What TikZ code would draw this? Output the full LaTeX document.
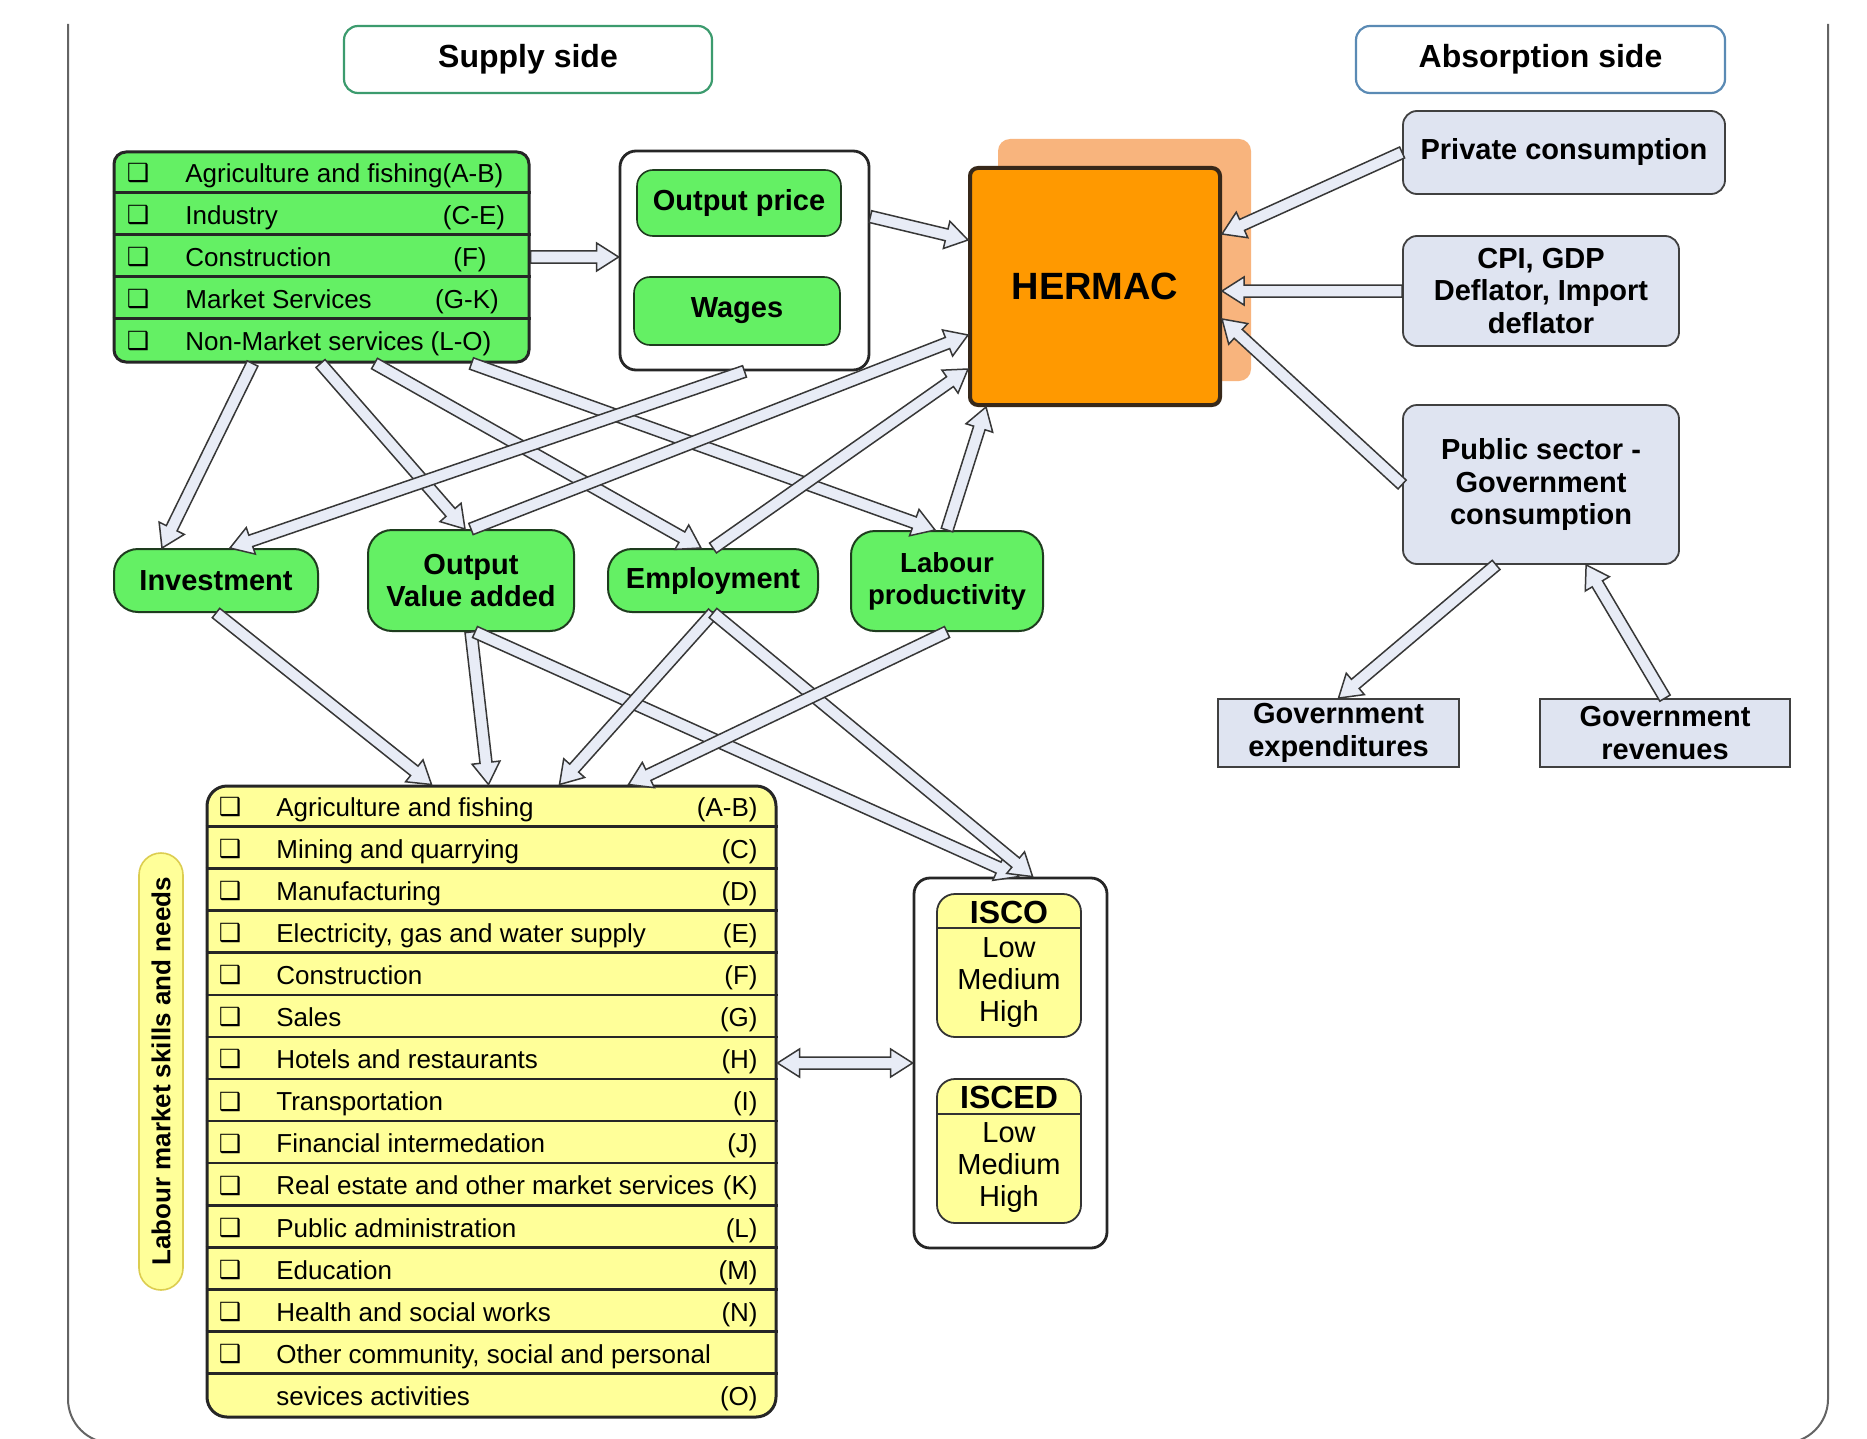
\documentclass[tikz,border=0pt]{standalone}
\usepackage{fontspec}
\setmainfont{Liberation Sans}
\newfontfamily\dejavu{DejaVu Sans}
\usetikzlibrary{calc}

\definecolor{gfill}{RGB}{100,240,100}
\definecolor{yfill}{RGB}{255,255,153}
\definecolor{bfill}{RGB}{223,228,241}
\definecolor{ofill}{RGB}{255,153,0}
\definecolor{oshadow}{RGB}{248,180,125}
\definecolor{afill}{RGB}{232,236,246}
\definecolor{aline}{RGB}{55,55,55}
\definecolor{framegray}{RGB}{100,100,100}
\definecolor{supplyline}{RGB}{60,155,110}
\definecolor{absline}{RGB}{90,138,180}
\definecolor{vlabline}{RGB}{220,205,80}
\definecolor{dkgreen}{RGB}{30,60,30}
\definecolor{hermline}{RGB}{55,40,25}

\newcommand\faw{3pt}
\newcommand\fah{7pt}
\newcommand\fal{11pt}
\newcommand\lblfont{\bfseries\fontsize{14.5}{16.3}\selectfont}
\newcommand\rowfont{\fontsize{13}{15}\selectfont}

\newcommand\fatarrow[2]{%
  \path #1 coordinate (faA) #2 coordinate (faB);
  \path ($(faB)!\fal!(faA)$) coordinate (faH);
  \draw[fatarrow] ($(faA)!\faw!90:(faB)$) -- ($(faH)!\faw!90:(faB)$) -- ($(faH)!\fah!90:(faB)$) -- (faB) -- ($(faH)!\fah!-90:(faB)$) -- ($(faH)!\faw!-90:(faB)$) -- ($(faA)!\faw!-90:(faB)$) -- cycle;
}
\newcommand\dblarrow[2]{%
  \path #1 coordinate (faA) #2 coordinate (faB);
  \path ($(faB)!\fal!(faA)$) coordinate (faH) ($(faA)!\fal!(faB)$) coordinate (faG);
  \draw[fatarrow] (faA) -- ($(faG)!\fah!90:(faB)$) -- ($(faG)!\faw!90:(faB)$) -- ($(faH)!\faw!90:(faB)$) -- ($(faH)!\fah!90:(faB)$) -- (faB) -- ($(faH)!\fah!-90:(faB)$) -- ($(faH)!\faw!-90:(faB)$) -- ($(faG)!\faw!-90:(faB)$) -- ($(faG)!\fah!-90:(faB)$) -- cycle;
}

\begin{document}
\begin{tikzpicture}[x=0.5pt,y=-0.5pt,
  fatarrow/.style={fill=afill, draw=aline, line width=0.75pt, line join=miter},
  hdr/.style={draw, line width=1.1pt, rounded corners=7pt, fill=white, minimum width=184pt, minimum height=33.5pt, font=\bfseries\fontsize{16}{18}\selectfont},
  secbox/.style={draw=black!85, line width=1.5pt, fill=gfill, rounded corners=6pt, minimum width=207.5pt, minimum height=105pt, inner sep=0pt},
  tabbox/.style={draw=black!85, line width=1.5pt, fill=yfill, rounded corners=10pt, minimum width=284.5pt, minimum height=315.5pt, inner sep=0pt},
  divider/.style={draw=black!85, line width=1.3pt},
  rowtxt/.style={font=\rowfont, inner sep=0pt, text height=9.3pt, text depth=0pt},
  chk/.style={font=\dejavu\fontsize{12.5}{13}\selectfont, inner sep=0pt},
  contbox/.style={draw=black!85, line width=1.4pt, fill=white, rounded corners=8pt},
  gbox/.style={draw=dkgreen, line width=0.8pt, fill=gfill, rounded corners=8pt, minimum width=103pt, minimum height=33.5pt, font=\lblfont},
  hermacbox/.style={draw=hermline, line width=2pt, fill=ofill, rounded corners=4pt, minimum width=125pt, minimum height=118.5pt, font=\bfseries\fontsize{19}{22}\selectfont},
  bluebox/.style={draw=black!75, line width=0.9pt, fill=bfill, rounded corners=7pt, align=center, font=\lblfont},
  govbox/.style={draw=black!75, line width=0.9pt, fill=bfill, minimum height=34pt, align=center, font=\lblfont, inner sep=1pt},
  blob/.style={draw=dkgreen, line width=1pt, fill=gfill, rounded corners=12pt, align=center, font=\lblfont, inner sep=1pt},
  vlab/.style={draw=vlabline, line width=0.8pt, fill=yfill, rounded corners=11pt, minimum width=218.5pt, minimum height=22pt, inner sep=0pt, font=\bfseries\fontsize{13}{15}\selectfont},
  iscobox/.style={draw=black!80, line width=0.9pt, fill=yfill, rounded corners=9pt, minimum width=72pt},
  iscohead/.style={font=\bfseries\fontsize{16}{18}\selectfont, inner sep=0pt},
  iscolev/.style={font=\fontsize{14.5}{16}\selectfont, align=center, inner sep=0pt}
]
\useasboundingbox (0,0) rectangle (1867,1439);
\fill[white] (0,0) rectangle (1867,1439);

% outer frame
\draw[framegray, line width=1pt, rounded corners=22pt] (68,24) -- (68,1443) -- (1828,1443) -- (1828,24);

% headers
\node[hdr, draw=supplyline] (supply) at (528,59.5) {Supply side};
\node[hdr, draw=absline, minimum width=184.5pt] (absorb) at (1540.5,59.5) {Absorption side};

% supply sectors box
\node[secbox] (sec) at (321.5,257) {};
\foreach \k in {1,...,4}
  \draw[divider] ($(sec.north west)+(0,{\k*42})$) -- ($(sec.north east)+(0,{\k*42})$);
\foreach \i in {1,...,5}
  \node[chk] (sc\i) at (138,{152+(\i-0.5)*42}) {❑};
\node[rowtxt, anchor=west] (st1) at (185,173) {Agriculture and fishing(A-B)};
\node[rowtxt, anchor=west] (st2) at (185,215) {Industry};
\node[rowtxt] (scd2) at (474,215) {(C-E)};
\node[rowtxt, anchor=west] (st3) at (185,257) {Construction};
\node[rowtxt] (scd3) at (470,257) {(F)};
\node[rowtxt, anchor=west] (st4) at (185,299) {Market Services};
\node[rowtxt] (scd4) at (467,299) {(G-K)};
\node[rowtxt, anchor=west] (st5) at (185,341) {Non-Market services};
\node[rowtxt] (scd5) at (461,341) {(L-O)};

% output price / wages
\node[contbox, minimum width=124.5pt, minimum height=109.5pt] (cont) at (744.5,260.5) {};
\node[gbox, minimum width=102pt, minimum height=33pt] (oprice) at (739,203) {Output price};
\node[gbox, minimum height=34pt] (wages) at (737,311) {Wages};

% HERMAC
\node[fill=oshadow, rounded corners=6pt, minimum width=126.5pt, minimum height=121pt] (hshadow) at (1124.5,260) {};
\node[hermacbox] (hermac) at (1095,286.5) {HERMAC};

% absorption side
\node[bluebox, minimum width=161pt, minimum height=41.5pt] (priv) at (1564,152.5) {Private consumption};
\node[bluebox, minimum width=138pt, minimum height=55pt] (cpi) at (1541,291) {CPI, GDP\\Deflator, Import\\deflator};
\node[bluebox, minimum width=138pt, minimum height=79.5pt] (pub) at (1541,484.5) {Public sector -\\Government\\consumption};
\node[govbox, minimum width=120.5pt] (gexp) at (1338.5,733) {Government\\expenditures};
\node[govbox, minimum width=125pt] (grev) at (1665,733) {Government\\revenues};

% green blobs
\node[blob, minimum width=102pt, minimum height=31.5pt] (inv) at (216,580.5) {Investment};
\node[blob, minimum width=103pt, minimum height=50.5pt] (ova) at (471,580.5) {Output\\Value added};
\node[blob, minimum width=105pt, minimum height=31.5pt] (emp) at (713,580.5) {Employment};
\node[blob, minimum width=96pt, minimum height=50pt, font=\bfseries\fontsize{13.8}{16}\selectfont] (lab) at (947,581) {Labour\\productivity};

% labour market table
\node[tabbox] (tab) at (491.5,1101.5) {};
\foreach \k in {1,...,14}
  \draw[divider] ($(tab.north west)+(0,{\k*42.07})$) -- ($(tab.north east)+(0,{\k*42.07})$);
\foreach \i/\t/\c in {1/Agriculture and fishing/(A-B), 2/Mining and quarrying/(C), 3/Manufacturing/(D), 4/{Electricity, gas and water supply}/(E), 5/Construction/(F), 6/Sales/(G), 7/Hotels and restaurants/(H), 8/Transportation/(I), 9/Financial intermedation/(J), 10/Real estate and other market services/(K), 11/Public administration/(L), 12/Education/(M), 13/Health and social works/(N), 14/{Other community, social and personal}/{}}
{
  \node[chk] (tc\i) at (230,{786+(\i-0.5)*42.07}) {❑};
  \node[rowtxt, anchor=west] (tt\i) at (276,{786+(\i-0.5)*42.07}) {\t};
  \node[rowtxt, anchor=east] (td\i) at (758,{786+(\i-0.5)*42.07}) {\c};
}
\node[rowtxt, anchor=west] (tt15) at (276,{786+14.5*42.07}) {sevices activities};
\node[rowtxt, anchor=east] (td15) at (758,{786+14.5*42.07}) {(O)};

\node[vlab, rotate=90] (vlab) at (161,1071.5) {Labour market skills and needs};

% ISCO / ISCED
\node[contbox, minimum width=96.5pt, minimum height=185pt] (iscont) at (1010.5,1063) {};
\node[iscobox, minimum height=71.5pt] (isco) at (1009,965.5) {};
\draw[line width=0.9pt, black!80] ($(isco.north west)+(0,35)$) -- ($(isco.north east)+(0,35)$);
\node[iscohead] (iscot) at (1009,912) {ISCO};
\node[iscolev] (iscol) at (1009,983) {Low\\Medium\\High};
\node[iscobox, minimum height=72pt] (isced) at (1009,1151) {};
\draw[line width=0.9pt, black!80] ($(isced.north west)+(0,36)$) -- ($(isced.north east)+(0,36)$);
\node[iscohead] (iscedt) at (1009,1097) {ISCED};
\node[iscolev] (iscedl) at (1009,1168) {Low\\Medium\\High};

% connectors
\fatarrow{(sec.east)}{(sec.east -| cont.west)}
\fatarrow{($(cont.north east)+(0,67)$)}{($(hermac.north west)+(0,74)$)}
\fatarrow{(priv.west)}{($(hermac.north east)+(0,68)$)}
\fatarrow{(cpi.west)}{(cpi.west -| hermac.east)}
\fatarrow{(pub.west)}{($(hermac.north east)+(0,153)$)}
\fatarrow{($(pub.south west)+(94,0)$)}{(gexp.north)}
\fatarrow{(grev.north)}{($(pub.south west)+(184,0)$)}
\fatarrow{($(sec.south west)+(140,0)$)}{($(inv.north west)+(49,0)$)}
\fatarrow{($(sec.south west)+(208,0)$)}{($(ova.north)+(-6,0)$)}
\fatarrow{($(sec.south west)+(262,0)$)}{($(emp.north)+(-12,0)$)}
\fatarrow{($(sec.south west)+(359,0)$)}{($(lab.north)+(-12,0)$)}
\fatarrow{(cont.south)}{($(inv.north)+(14,0)$)}
\fatarrow{(ova.north)}{($(hermac.north west)+(0,169)$)}
\fatarrow{(emp.north)}{($(hermac.north west)+(0,203)$)}
\fatarrow{(lab.north)}{($(hermac.south west)+(18,0)$)}
\fatarrow{(inv.south)}{($(tab.north west)+(226,0)$)}
\fatarrow{(ova.south)}{($(tab.north west)+(283,0)$)}
\fatarrow{($(ova.south)+(4,0)$)}{($(iscont.north west)+(106,0)$)}
\fatarrow{(emp.south)}{($(tab.north west)+(354,0)$)}
\fatarrow{(emp.south)}{($(iscont.north west)+(120,0)$)}
\fatarrow{(lab.south)}{($(tab.north west)+(423,0)$)}
\dblarrow{(tab.east |- iscont.west)}{(iscont.west)}
\end{tikzpicture}
\end{document}
